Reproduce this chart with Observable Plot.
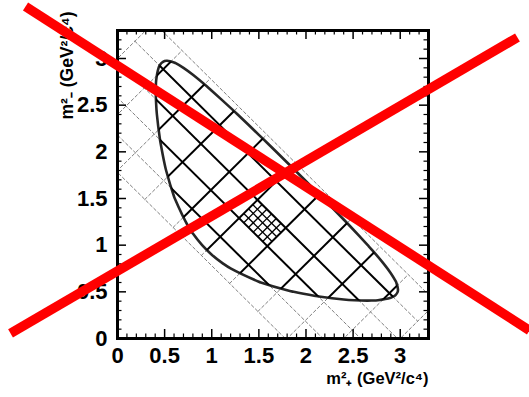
<!DOCTYPE html>
<html><head><meta charset="utf-8">
<style>
body{margin:0;background:#fff;}
svg{display:block;}
</style>
</head><body>
<div id="chart"></div>
<script src="https://cdn.jsdelivr.net/npm/d3@7"></script>
<script src="https://cdn.jsdelivr.net/npm/@observablehq/plot@0.6"></script>
<script>
// ---- text ----
const xLabel = "m²₊ (GeV²/c⁴)";
const yLabel = "m²₋ (GeV²/c⁴)";

// ---- ticks ----
const majorTicks = [0, 0.5, 1, 1.5, 2, 2.5, 3];
const minorTicks = [0.1,0.2,0.3,0.4,0.6,0.7,0.8,0.9,1.1,1.2,1.3,1.4,1.6,1.7,1.8,1.9,2.1,2.2,2.3,2.4,2.6,2.7,2.8,2.9,3.1,3.2];

// ---- Dalitz boundary (m+^2, m-^2) ----
const boundaryM2p = [0.406,0.410,0.418,0.450,0.456,0.500,0.516,0.600,0.608,0.751,0.800,0.898,1.000,1.124,1.200,1.500,1.521,1.800,1.869,2.100,2.137,2.400,2.515,2.650,2.700,2.763,2.900,2.930,2.950,2.973,2.976,2.958,2.950,2.900,2.826,2.700,2.655,2.471,2.400,2.182,2.100,1.886,1.800,1.584,1.500,1.275,1.200,1.000,0.950,0.800,0.700,0.617,0.600,0.526,0.500,0.465,0.450,0.436,0.410,0.407];
const boundaryM2m = [2.650,2.515,2.400,2.137,2.100,1.869,1.800,1.521,1.500,1.200,1.124,1.000,0.898,0.800,0.751,0.608,0.600,0.516,0.500,0.456,0.450,0.418,0.410,0.406,0.407,0.410,0.436,0.450,0.465,0.500,0.526,0.600,0.617,0.700,0.800,0.950,1.000,1.200,1.275,1.500,1.584,1.800,1.886,2.100,2.182,2.400,2.471,2.655,2.700,2.826,2.900,2.950,2.958,2.976,2.973,2.950,2.930,2.900,2.763,2.700];

// ---- binning grid: lines of constant (m+^2 + m-^2) and (m+^2 - m-^2) ----
const gridSum  = [1.78, 2.18, 2.58, 2.97, 3.37, 3.77];
const gridDiff = [-3.0, -2.4, -1.8, -1.2, -0.6, 0, 0.6, 1.2, 1.8, 2.4, 3.0];
// fine sub-binning of one cell
const fineCellSum  = [2.58, 2.97];
const fineCellDiff = [0, 0.6];
const fineSum  = [2.68, 2.78, 2.87];
const fineDiff = [0.1, 0.2, 0.3, 0.4, 0.5];

// ---- red cross overlay ----
const cross1X = [-0.976, 4.372], cross1Y = [3.557, 0.086];
const cross2X = [-1.135, 4.244], cross2Y = [0.054, 3.225];

// ---- build tables ----
const boundary = boundaryM2p.map((x, i) => ({x, y: boundaryM2m[i]}));
const pt = (s, d, id) => ({x: (s + d) / 2, y: (s - d) / 2, id});
function gridSegments(sums, diffs, sRange, dRange, tag) {
  const out = [];
  sums.forEach((s, i) => { out.push(pt(s, dRange[0], tag + "s" + i), pt(s, dRange[1], tag + "s" + i)); });
  diffs.forEach((d, i) => { out.push(pt(sRange[0], d, tag + "d" + i), pt(sRange[1], d, tag + "d" + i)); });
  return out;
}
const sRange = [gridSum[0], gridSum[gridSum.length - 1]];
const dRange = [gridDiff[0], gridDiff[gridDiff.length - 1]];
const grid = gridSegments(gridSum, gridDiff, sRange, dRange, "g");
const fine = gridSegments(fineSum, fineDiff, fineCellSum, fineCellDiff, "f");
const cross = [
  ...cross1X.map((x, i) => ({x, y: cross1Y[i], id: "c1"})),
  ...cross2X.map((x, i) => ({x, y: cross2Y[i], id: "c2"}))
];

const W = 529, H = 397, mL = 117, mR = 101, mT = 30, mB = 59;
const iW = W - mL - mR, iH = H - mT - mB;
const font = "'Liberation Sans', Arial, Helvetica, sans-serif";

const svg = Plot.plot({
  width: W, height: H,
  marginLeft: mL, marginRight: mR, marginTop: mT, marginBottom: mB,
  x: {domain: [0, 3.3]},
  y: {domain: [0, 3.3]},
  style: {fontFamily: font, fontSize: "22px", fontWeight: "bold", background: "#fff", overflow: "visible"},
  marks: [
    // dashed full grid
    Plot.line(grid, {x: "x", y: "y", z: "id", stroke: "#808080", strokeWidth: 1, strokeDasharray: "3,2.5", clip: true}),
    // Dalitz boundary
    Plot.line(boundary, {x: "x", y: "y", curve: "catmull-rom-closed", stroke: "#262626", strokeWidth: 2.6}),
    // solid grid (clipped to boundary below)
    Plot.line(grid, {x: "x", y: "y", z: "id", stroke: "#000", strokeWidth: 2, strokeLinecap: "butt"}),
    // fine grid
    Plot.line(fine, {x: "x", y: "y", z: "id", stroke: "#000", strokeWidth: 1.3, strokeLinecap: "butt"}),
    // frame and ticks
    Plot.frame({stroke: "#000", strokeWidth: 3}),
    Plot.tickX(majorTicks, {x: d => d, insetTop: iH - 9, stroke: "#000", strokeWidth: 1.5}),
    Plot.tickX(majorTicks, {x: d => d, insetBottom: iH - 9, stroke: "#000", strokeWidth: 1.5}),
    Plot.tickX(minorTicks, {x: d => d, insetTop: iH - 4.5, stroke: "#000", strokeWidth: 1.2}),
    Plot.tickX(minorTicks, {x: d => d, insetBottom: iH - 4.5, stroke: "#000", strokeWidth: 1.2}),
    Plot.tickY(majorTicks, {y: d => d, insetRight: iW - 9, stroke: "#000", strokeWidth: 1.5}),
    Plot.tickY(majorTicks, {y: d => d, insetLeft: iW - 9, stroke: "#000", strokeWidth: 1.5}),
    Plot.tickY(minorTicks, {y: d => d, insetRight: iW - 4.5, stroke: "#000", strokeWidth: 1.2}),
    Plot.tickY(minorTicks, {y: d => d, insetLeft: iW - 4.5, stroke: "#000", strokeWidth: 1.2}),
    Plot.axisX(majorTicks, {tickSize: 0, tickPadding: 9, label: null, fontSize: 22, fontWeight: "bold", tickFormat: d => String(d)}),
    Plot.axisY(majorTicks, {tickSize: 0, tickPadding: 10, label: null, fontSize: 22, fontWeight: "bold", tickFormat: d => String(d)}),
    Plot.text([xLabel], {text: d => d, frameAnchor: "bottom-right", textAnchor: "end", dx: 0, dy: 45, fontSize: 16.5, fontWeight: "bold"}),
    Plot.text([yLabel], {text: d => d, frameAnchor: "top-left", rotate: -90, textAnchor: "end", dx: -57, dy: -19, fontSize: 17.5, fontWeight: "bold"}),
    // red cross
    Plot.line(cross, {x: "x", y: "y", z: "id", stroke: "#ff0000", strokeWidth: 9.5, strokeLinecap: "butt"})
  ]
});

// clip the solid grid to the Dalitz boundary
(function clipSolid() {
  const ns = "http://www.w3.org/2000/svg";
  const lines = svg.querySelectorAll('g[aria-label="line"]');
  if (lines.length < 3) return;
  const bPath = lines[1].querySelector("path");
  const solid = lines[2];
  const defs = document.createElementNS(ns, "defs");
  const cp = document.createElementNS(ns, "clipPath");
  cp.setAttribute("id", "dalitz-clip");
  const p = document.createElementNS(ns, "path");
  p.setAttribute("d", bPath.getAttribute("d"));
  cp.appendChild(p);
  defs.appendChild(cp);
  svg.insertBefore(defs, svg.firstChild);
  solid.querySelectorAll("path").forEach(el => el.setAttribute("clip-path", "url(#dalitz-clip)"));
})();

document.getElementById("chart").appendChild(svg);
</script>
</body></html>
